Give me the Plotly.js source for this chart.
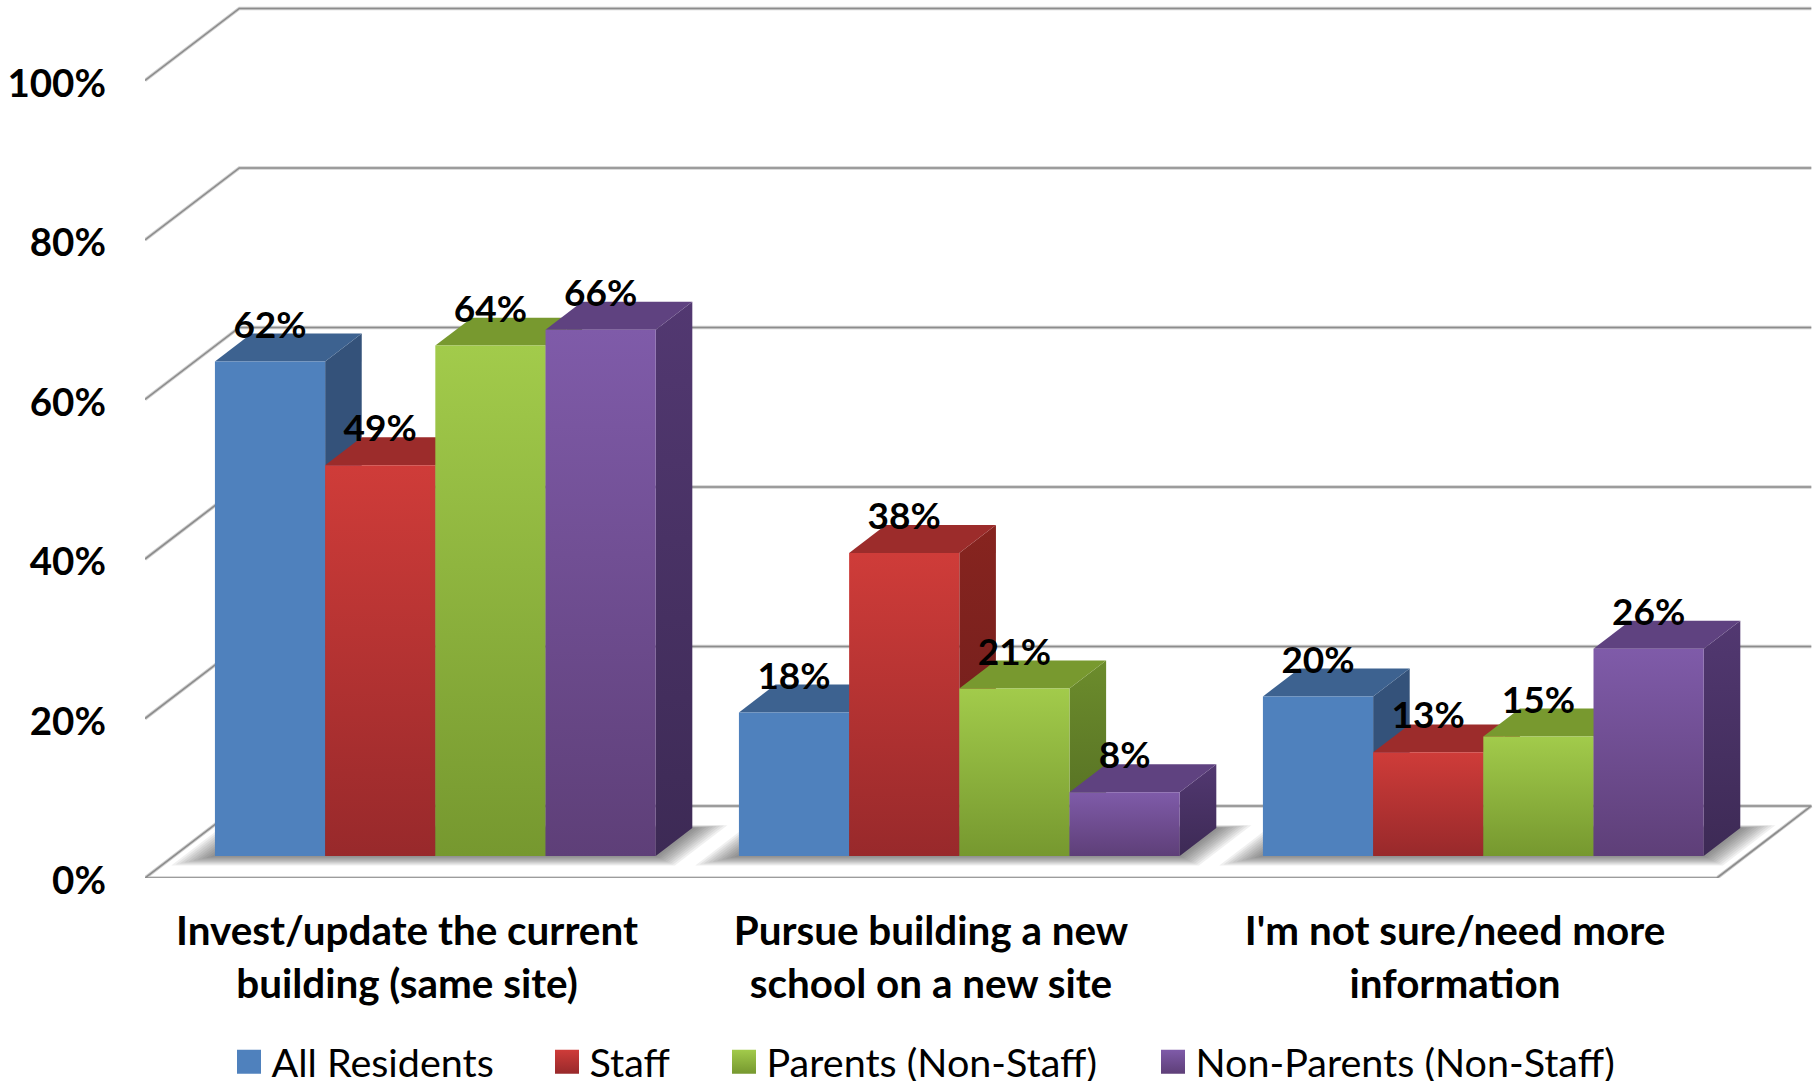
<!DOCTYPE html>
<html>
<head>
<meta charset="utf-8">
<script src="https://cdn.plot.ly/plotly-3.0.1.min.js"></script>
<style>html,body{margin:0;padding:0;background:#fff;overflow:hidden}#chart{width:1820px;height:1081px}</style>
</head>
<body>
<div id="chart"></div>
<script>
const categories = ["Invest/update the current<br>building (same site)", "Pursue building a new<br>school on a new site", "I'm not sure/need more<br>information"];
const seriesNames = ["All Residents", "Staff", "Parents (Non-Staff)", "Non-Parents (Non-Staff)"];
const allResidents = [62, 18, 20];
const staff = [49, 38, 13];
const parents = [64, 21, 15];
const nonParents = [66, 8, 26];
const yTicks = [0, 20, 40, 60, 80, 100];
const yTickLabels = ["0%", "20%", "40%", "60%", "80%", "100%"];

const seriesValues = [allResidents, staff, parents, nonParents];
const frontTop = ["#4F81BD", "#CF3C39", "#A2CB4B", "#7F5BA9"];
const frontBottom = ["#4F81BD", "#98292B", "#76982F", "#5E3F78"];
const topFace = ["#3D6290", "#9C2C2B", "#78992F", "#5F4280"];
const sideTop = ["#34527A", "#87241F", "#6C8C2C", "#523871"];
const sideBottom = ["#34527A", "#6A1D1C", "#516A22", "#3D2A55"];
const legendX = [226.5, 544.5, 721.5, 1150.5];

const FONT = "Lato, Carlito, sans-serif";
const dx = 0.18, dy = 9.03, bw = 0.2103, shift = 0.0015;
const f0 = 0.292, f1 = 0.68, lift = 0.12;
const P = (x, v, f) => [x + f * dx, v + f * dy];
const B = (x, v, f) => [x + f * dx + shift, v + f * dy + lift];
const poly = pts => ({x: pts.map(p => p[0]), y: pts.map(p => p[1])});
const traces = [];
const base = {type: "scatter", mode: "lines", showlegend: false, hoverinfo: "skip", cliponaxis: false};

function addFace(pts, fill, gradient) {
  const t = Object.assign({}, base, poly(pts.concat([pts[0]])), {fill: "toself", line: {width: 0, color: fill}, fillcolor: fill});
  if (gradient) {
    const ys = pts.map(p => p[1]);
    t.fillgradient = {type: "vertical", colorscale: [[0, gradient[1]], [1, gradient[0]]], start: Math.min.apply(null, ys), stop: Math.max.apply(null, ys)};
  }
  traces.push(t);
}

// walls and floor
const L = -0.5, R = 2.5;
function wallPath() {
  const xs = [], ys = [];
  yTicks.forEach(v => {
    if (v === 0) return;
    [P(L, v, 0), P(L, v, 1), P(R, v, 1)].forEach(p => { xs.push(p[0]); ys.push(p[1]); });
    xs.push(null); ys.push(null);
  });
  [P(L, 0, 0), P(L, 0, 1), P(R, 0, 1), P(R, 0, 0), P(L, 0, 0)].forEach(p => { xs.push(p[0]); ys.push(p[1]); });
  return {x: xs, y: ys};
}
traces.push(Object.assign({}, base, wallPath(), {line: {color: "#cfcfcf", width: 3.5}}));
traces.push(Object.assign({}, base, wallPath(), {line: {color: "#8c8c8c", width: 1.6}}));

// soft floor shadows
categories.forEach((_, c) => {
  const l = c - 2 * bw, r = c + 2 * bw;
  for (let k = 10; k >= 1; k--) {
    const ex = 0.06 * k / 10, ef = 0.13 * k / 10;
    const pts = [B(l - ex, 0, f0 - ef), B(r + ex, 0, f0 - ef), B(r + ex, 0, f1 + ef * 0.3), B(l - ex, 0, f1 + ef * 0.3)];
    traces.push(Object.assign({}, base, poly(pts.concat([pts[0]])), {fill: "toself", line: {width: 0}, fillcolor: "rgba(70,70,70,0.08)"}));
  }
});

// bars, painted left to right
categories.forEach((_, c) => {
  seriesValues.forEach((vals, i) => {
    const v = vals[c], l = c - 2 * bw + i * bw, r = l + bw;
    addFace([B(r, 0, f0), B(r, 0, f1), B(r, v, f1), B(r, v, f0)], sideTop[i], [sideTop[i], sideBottom[i]]);
    addFace([B(l, v, f0), B(r, v, f0), B(r, v, f1), B(l, v, f1)], topFace[i]);
    addFace([B(l, 0, f0), B(r, 0, f0), B(r, v, f0), B(l, v, f0)], frontTop[i], [frontTop[i], frontBottom[i]]);
  });
});

// data labels
seriesValues.forEach((vals, i) => {
  traces.push({type: "scatter", mode: "text", showlegend: false, hoverinfo: "skip", cliponaxis: false,
    x: vals.map((_, c) => c - 2 * bw + (i + 0.5) * bw + f0 * dx + shift),
    y: vals.map(v => v + 4.15 + f0 * dy + lift),
    text: vals.map(v => v + "%"), textposition: "middle center",
    textfont: {family: FONT, size: 37, color: "#000", weight: 700}});
});

// legend entries
seriesNames.forEach((name, i) => {
  traces.push({type: "scatter", mode: "markers", x: [null], y: [null], name: name, hoverinfo: "skip",
    legend: i === 0 ? "legend" : "legend" + (i + 1),
    marker: {symbol: "square", size: 16, color: frontTop[i], gradient: {type: "vertical", color: frontBottom[i]}, line: {width: 0}}});
});

const layout = {
  width: 1820, height: 1081,
  margin: {l: 145, r: 0, t: 0, b: 203, autoexpand: false},
  paper_bgcolor: "#fff", plot_bgcolor: "rgba(0,0,0,0)",
  font: {family: FONT, color: "#000"},
  xaxis: {range: [L, 2.6966], tickmode: "array", tickvals: [0, 1, 2], ticktext: categories, ticks: "", showgrid: false, zeroline: false, showline: false,
    ticklabelstandoff: 26, tickfont: {family: FONT, size: 40.4, weight: 700, color: "#000"}, fixedrange: true},
  yaxis: {range: [0, 110.09], tickmode: "array", tickvals: yTicks, ticktext: yTickLabels, ticks: "", showgrid: false, zeroline: false, showline: false,
    ticklabelstandoff: 38, ticklabelshift: 3, tickfont: {family: FONT, size: 38.5, weight: 700, color: "#000"}, fixedrange: true}
};
seriesNames.forEach((_, i) => {
  layout[i === 0 ? "legend" : "legend" + (i + 1)] = {
    orientation: "h", xref: "paper", yref: "paper", itemwidth: 35,
    x: (legendX[i] - 145) / 1675, xanchor: "left",
    y: (878 - 1062) / 878, yanchor: "middle",
    bgcolor: "rgba(0,0,0,0)", borderwidth: 0,
    font: {family: FONT, size: 39.5, color: "#000"}
  };
});
Plotly.newPlot("chart", traces, layout, {displayModeBar: false, staticPlot: true}).then(() => {
  // the library caps legend markers at 16px; the reference swatches are 24px
  document.querySelectorAll(".legendpoints path").forEach(p => {
    p.setAttribute("transform", (p.getAttribute("transform") || "") + " scale(1.5)");
  });
});
</script>
</body>
</html>
